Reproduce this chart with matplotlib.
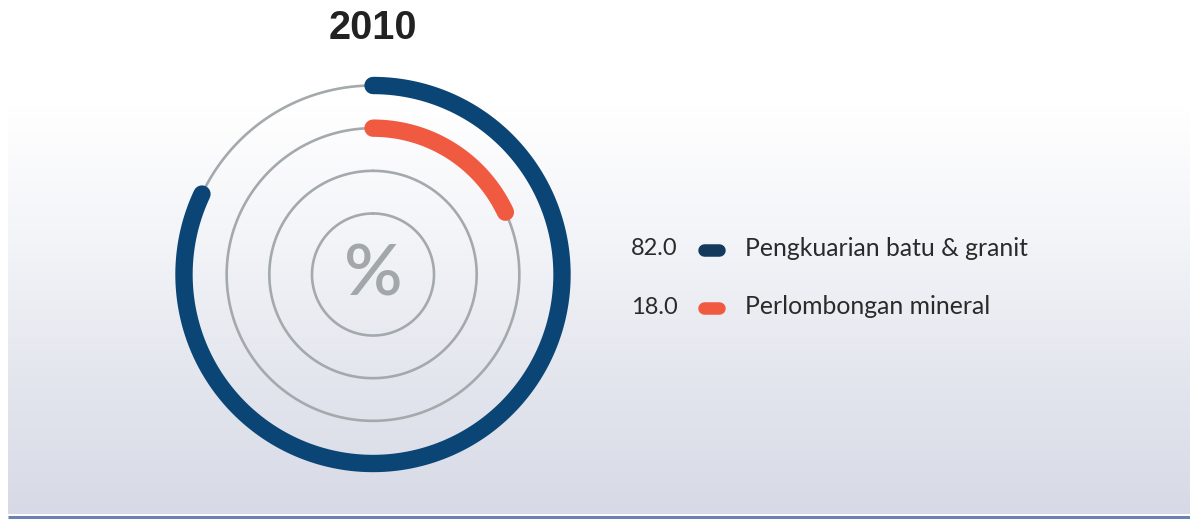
import numpy as np
import matplotlib
matplotlib.use("Agg")
import matplotlib.pyplot as plt
from matplotlib.colors import LinearSegmentedColormap

plt.rcParams["path.simplify"] = False

# ---- data ----
year = "2010"
categories = ["Pengkuarian batu & granit", "Perlombongan mineral"]
values = [82.0, 18.0]
colors = ["#0b4575", "#f05a40"]
legend_colors = ["#15395c", "#f05a40"]

W, H = 1190, 519
fig = plt.figure(figsize=(W / 100, H / 100), dpi=100)
fig.patch.set_facecolor("white")

# background gradient
bg = fig.add_axes([0, 0, 1, 1])
bg.set_xlim(0, W)
bg.set_ylim(H, 0)
bg.axis("off")
grad = np.linspace(0, 1, 256).reshape(-1, 1)
cmap = LinearSegmentedColormap.from_list("g", ["#ffffff", "#f3f4f8", "#e4e6ee", "#d7dae6"])
bg.imshow(grad, extent=[8, W, 514, 105], aspect="auto", cmap=cmap, zorder=0)
bg.plot([8, W], [516.5, 516.5], color="#6b80b8", lw=2.2, solid_capstyle="butt", zorder=1)

# title
fig.text(373 / W, 1 - 28.5 / H, year, ha="center", va="center", fontsize=28.5,
         fontweight="bold", family="Liberation Sans", color="#222222")

# polar radial bars
cx, cy = 373, 274.5
half = 200
ax = fig.add_axes([(cx - half) / W, (H - cy - half) / H, 2 * half / W, 2 * half / H],
                  projection="polar")
ax.patch.set_alpha(0)
ax.set_theta_zero_location("N")
ax.set_theta_direction(-1)
per = 42.67
rmax = 3 + 11 / per
ax.set_ylim(0, rmax)
ax.set_rorigin(-61 / per)
ax.axis("off")

th = np.linspace(0, 2 * np.pi, 721)
for r in range(4):
    ax.plot(th, np.full_like(th, r), color="#a4a9ac", lw=1.9, clip_on=False,
            solid_joinstyle="round", solid_capstyle="round", zorder=2)

track = [3, 2]
for v, c, r in zip(values, colors, track):
    t = np.linspace(0, 2 * np.pi * v / 100.0, 300)
    ax.plot(t, np.full_like(t, r), color=c, lw=12.5, solid_capstyle="round",
            clip_on=False, zorder=3)

fig.text(cx / W, 1 - 276 / H, "%", ha="center", va="center", fontsize=52,
         family="Lato", fontweight="semibold", color="#a2a7aa")

# legend
rows_y = [249, 307]
for v, c, lab, y in zip(values, legend_colors, categories, rows_y):
    fig.text(678 / W, 1 - y / H, f"{v:.1f}", ha="right", va="center", fontsize=17,
             family="Lato", color="#2a2a2a")
    bg.plot([704, 719], [y + 1, y + 1], color=c, lw=9, solid_capstyle="round", zorder=3)
    fig.text(745 / W, 1 - y / H, lab, ha="left", va="center", fontsize=17.8,
             family="Lato", color="#2a2a2a")

fig.savefig("out.png", dpi=100, facecolor="white")
